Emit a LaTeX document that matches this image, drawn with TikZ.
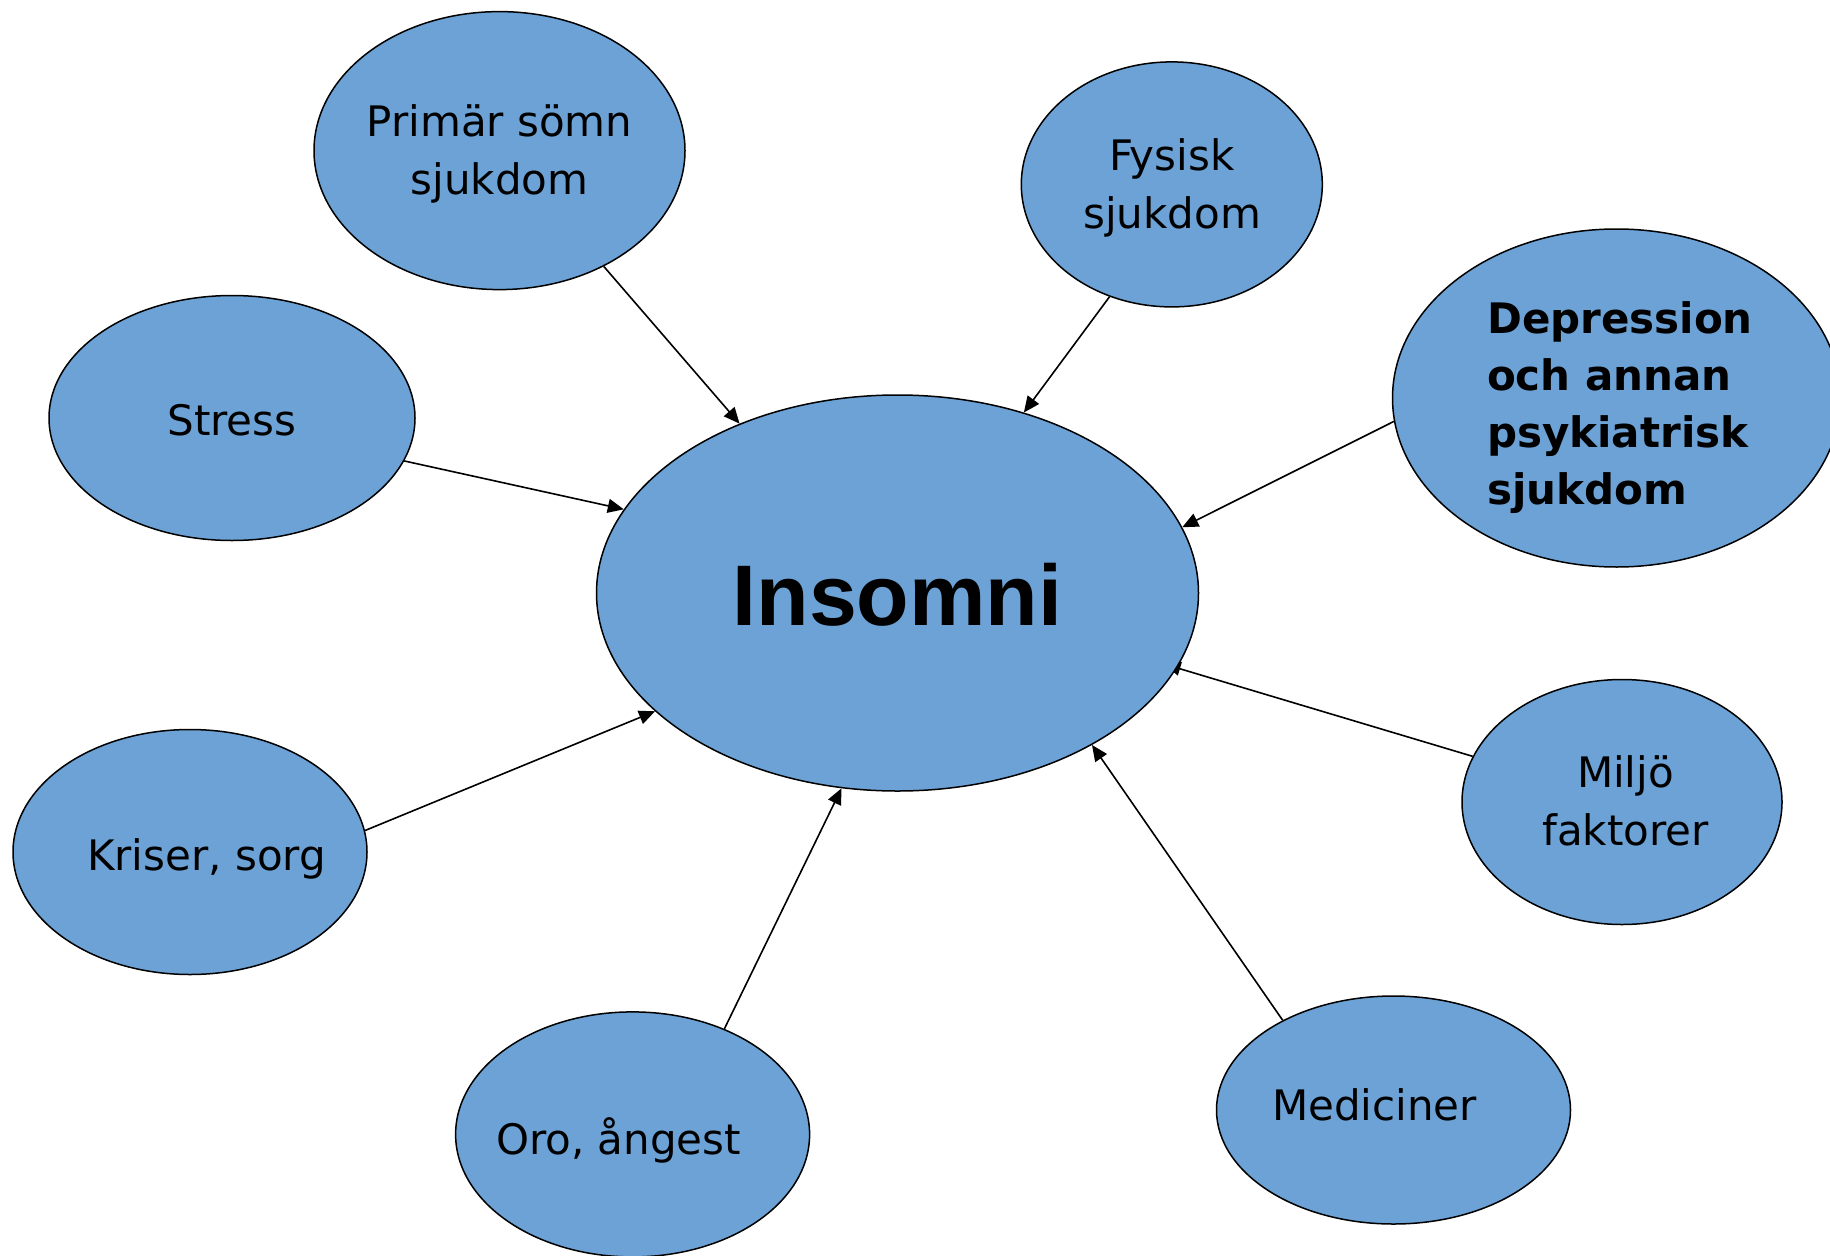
\documentclass[tikz,border=0pt]{standalone}
\usepackage{fontspec}
\usepackage{xcolor}
\usetikzlibrary{arrows.meta,shapes.geometric,backgrounds}
\newfontfamily\causefont{DejaVu Sans}
\newfontfamily\centrefont{Liberation Sans}
\definecolor{causeblue}{RGB}{108,162,213}

\tikzset{
  cause/.style={ellipse, draw=black, line width=1.5pt, fill=causeblue, inner sep=0pt},
  causetext/.style={font=\causefont\fontsize{42}{58}\selectfont, align=center, inner sep=0pt},
  link/.style={-{Triangle[length=16pt,width=14pt]}, line width=1.6pt}
}

\begin{document}
\begin{tikzpicture}[x=1pt,y=-1pt]
\useasboundingbox (0,0) rectangle (1830,1255);

% Centre node
\node[cause, minimum width=602pt, minimum height=396pt] (ins) at (897.5,593) {};
\node[font=\centrefont\bfseries\fontsize{86}{90}\selectfont, inner sep=0pt] (inslabel) at (897.5,595) {Insomni};

% Cause nodes
\node[cause, minimum width=371pt, minimum height=278pt] (prim) at (499.5,150.6) {};
\node[cause, minimum width=301pt, minimum height=245pt] (fys) at (1171.8,184.4) {};
\node[cause, minimum width=448pt, minimum height=338pt] (dep) at (1616.5,398) {};
\node[cause, minimum width=366pt, minimum height=245pt] (str) at (232,418) {};
\node[cause, minimum width=354pt, minimum height=245pt] (kri) at (190,852) {};
\node[cause, minimum width=354pt, minimum height=245pt] (oro) at (632.6,1134.4) {};
\node[cause, minimum width=354pt, minimum height=228pt] (med) at (1393.5,1110) {};
\node[cause, minimum width=320pt, minimum height=245pt] (milj) at (1622,802) {};

% Labels
\node[causetext] (primlabel) at (499.5,154) {Primär sömn\\sjukdom};
\node[causetext] (fyslabel) at (1172,188) {Fysisk\\sjukdom};
\node[causetext, font=\causefont\bfseries\fontsize{42}{57}\selectfont, align=left] (deplabel) at (1620,408) {Depression\\och annan\\psykiatrisk\\sjukdom};
\node[causetext] (strlabel) at (232,420) {Stress};
\node[causetext] (krilabel) at (206.5,859) {Kriser, sorg};
\node[causetext] (orolabel) at (618.5,1140) {Oro, ångest};
\node[causetext] (medlabel) at (1374.5,1105) {Mediciner};
\node[causetext] (miljlabel) at (1625.5,801) {Miljö\\faktorer};

% Connections into the centre
\foreach \from/\a/\b in {prim/-48.9/133.9, fys/-119.1/55.3, dep/186/13, str/-14.9/163.1,
  kri/7.5/206.1, oro/49.8/-106.2, med/141.6/-38}
\draw[link] (\from.\a) -- (ins.\b);

% this one has its tip hidden under the centre
\begin{pgfonlayer}{background}
\draw[link, shorten >=-13pt] (milj.163.8) -- (ins.-15);
\end{pgfonlayer}

\end{tikzpicture}
\end{document}
